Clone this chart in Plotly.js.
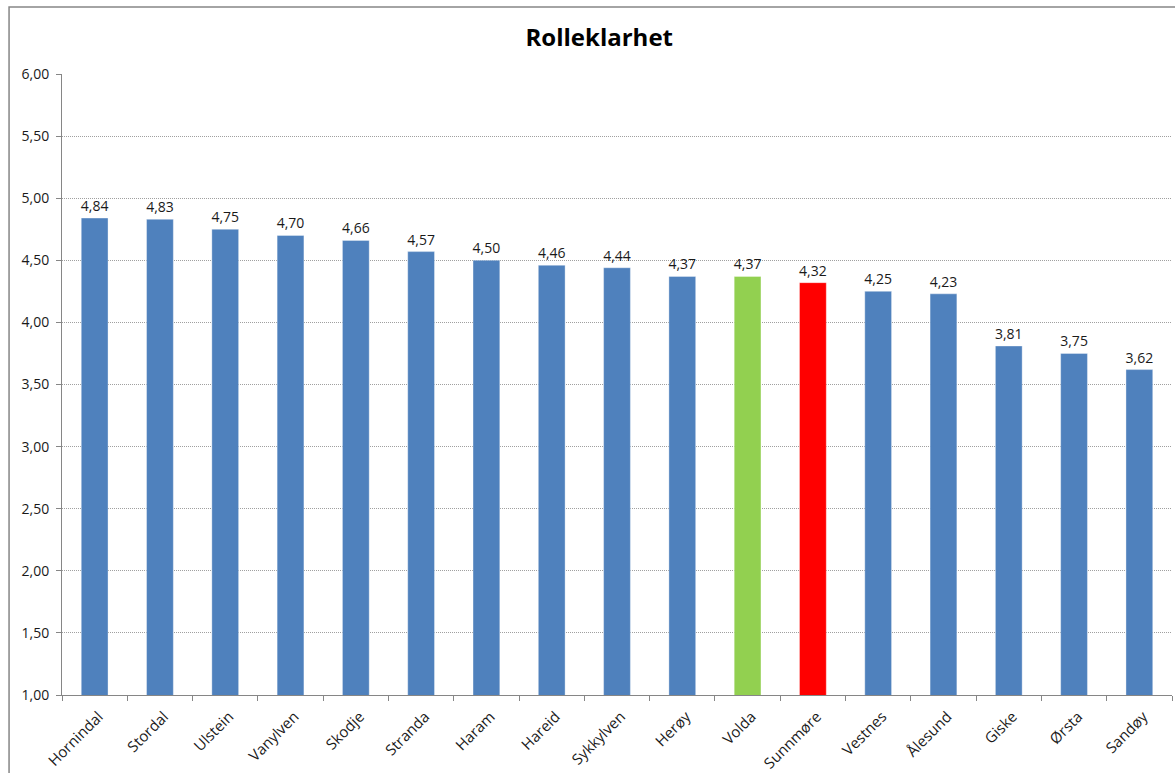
<!DOCTYPE html>
<html>
<head>
<meta charset="utf-8">
<script src="https://cdn.plot.ly/plotly-3.0.1.min.js"></script>
<style>
html,body{margin:0;padding:0;background:#fff;}
#chart{width:1175px;height:773px;}
</style>
</head>
<body>
<div id="chart"></div>
<script>
const categories = ["Hornindal","Stordal","Ulstein","Vanylven","Skodje","Stranda","Haram","Hareid","Sykkylven","Herøy","Volda","Sunnmøre","Vestnes","Ålesund","Giske","Ørsta","Sandøy"];
const values = [4.84,4.83,4.75,4.70,4.66,4.57,4.50,4.46,4.44,4.37,4.37,4.32,4.25,4.23,3.81,3.75,3.62];
const barColors = categories.map(c => c === "Volda" ? "#92D050" : (c === "Sunnmøre" ? "#FF0000" : "#4F81BD"));
const fontFam = "Open Sans, Noto Sans, sans-serif";

const trace = {
  type: "bar",
  x: categories,
  y: values,
  marker: {color: barColors, line: {color: "rgba(255,255,255,0.35)", width: 1}},
  width: 0.41,
  texttemplate: "%{y:.2f}",
  textposition: "outside",
  constraintext: "none",
  textfont: {family: fontFam, size: 14, color: "#1a1a1a"},
  cliponaxis: false,
  hoverinfo: "x+y"
};

const layout = {
  width: 1175, height: 773,
  margin: {l: 62, r: 3, t: 74, b: 78},
  separators: ", ",
  paper_bgcolor: "#fff",
  plot_bgcolor: "#fff",
  showlegend: false,
  title: {text: "<b>Rolleklarhet</b>", font: {family: fontFam, size: 24, color: "#000"}, x: 0.51, xref: "container", xanchor: "center", y: 0.951, yref: "container", yanchor: "middle"},
  xaxis: {
    type: "category",
    showgrid: false,
    showline: true, linecolor: "#868686", linewidth: 1,
    ticks: "outside", tickson: "boundaries", ticklen: 5, tickcolor: "#868686",
    tickangle: -45,
    ticklabelstandoff: 6,
    ticklabelshift: 4,
    tickfont: {family: fontFam, size: 15, color: "#1a1a1a"},
    fixedrange: true
  },
  yaxis: {
    range: [1, 6],
    dtick: 0.5,
    tickformat: ".2f",
    showgrid: true, gridcolor: "#a0a0a0", griddash: "1px,1px", gridwidth: 1,
    showline: true, linecolor: "#868686", linewidth: 1,
    ticks: "outside", ticklen: 5, tickcolor: "#868686",
    ticklabelstandoff: 4,
    tickfont: {family: fontFam, size: 14, color: "#1a1a1a"},
    zeroline: false,
    fixedrange: true
  },
  shapes: [{
    type: "rect", xref: "paper", yref: "paper",
    x0: -0.0477, x1: 1.05, y0: -0.3, y1: 1.1079,
    line: {color: "#868686", width: 1.5}, fillcolor: "rgba(0,0,0,0)", layer: "below"
  }]
};

Plotly.newPlot("chart", [trace], layout, {displayModeBar: false, staticPlot: true});
</script>
</body>
</html>
